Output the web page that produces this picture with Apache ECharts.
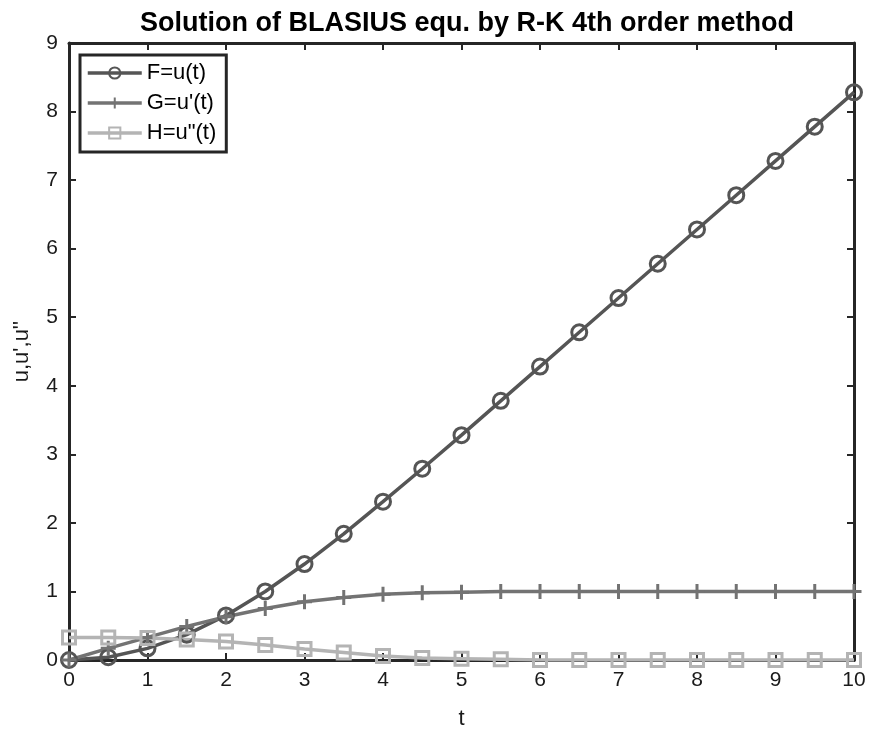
<!DOCTYPE html>
<html>
<head>
<meta charset="utf-8">
<script src="https://cdn.jsdelivr.net/npm/echarts@6/dist/echarts.min.js"></script>
<style>
  html, body { margin: 0; padding: 0; background: #fff; }
  #chart { width: 870px; height: 737px; }
</style>
</head>
<body>
<div id="chart"></div>
<script>
  // t steps of the R-K solution
  var tValues = [0, 0.5, 1, 1.5, 2, 2.5, 3, 3.5, 4, 4.5, 5, 5.5, 6, 6.5, 7, 7.5, 8, 8.5, 9, 9.5, 10];
  // F = u(t)
  var fValues = [0, 0.04, 0.17, 0.37, 0.65, 1.00, 1.40, 1.84, 2.31, 2.79, 3.28, 3.78, 4.28,
                 4.78, 5.28, 5.78, 6.28, 6.78, 7.28, 7.78, 8.28];
  // G = u'(t)
  var gValues = [0, 0.17, 0.33, 0.49, 0.63, 0.75, 0.85, 0.91, 0.96, 0.98, 0.99, 1.00, 1.00,
                 1.00, 1.00, 1.00, 1.00, 1.00, 1.00, 1.00, 1.00];
  // H = u''(t)
  var hValues = [0.33, 0.33, 0.32, 0.30, 0.27, 0.22, 0.16, 0.11, 0.06, 0.03, 0.02, 0.01, 0.00,
                 0.00, 0.00, 0.00, 0.00, 0.00, 0.00, 0.00, 0.00];
  var xTicks = [0, 1, 2, 3, 4, 5, 6, 7, 8, 9, 10];
  var yTicks = [0, 1, 2, 3, 4, 5, 6, 7, 8, 9];

  function pairs(ys) {
    return tValues.map(function (t, i) { return [t, ys[i]]; });
  }

  var axisColor = '#262626';
  var font = 'Liberation Sans, Arial, sans-serif';

  function baseAxis(extra) {
    var a = {
      type: 'value',
      axisLine: { show: true, onZero: false, lineStyle: { color: axisColor, width: 3 } },
      axisTick: { show: true, inside: true, length: 7, lineStyle: { color: axisColor, width: 2 } },
      splitLine: { show: false },
      axisLabel: { color: '#1a1a1a', fontSize: 21, fontFamily: font }
    };
    for (var k in extra) a[k] = extra[k];
    return a;
  }

  var option = {
    backgroundColor: '#fff',
    animation: false,
    title: {
      text: 'Solution of BLASIUS equ. by R-K 4th order method',
      left: 462, top: 5, textAlign: 'center',
      textStyle: { fontSize: 27, fontWeight: 'bold', color: '#000', fontFamily: font }
    },
    grid: { left: 69, right: 16, top: 43, bottom: 77 },
    legend: {
      orient: 'vertical', left: 80, top: 55,
      padding: [7, 10, 8, 6],
      itemWidth: 54, itemHeight: 14, itemGap: 8,
      borderColor: axisColor, borderWidth: 3, backgroundColor: '#fff',
      lineStyle: { width: 3.5 },
      textStyle: { fontSize: 22, color: '#000', fontFamily: font },
      data: ['F=u(t)', 'G=u\'(t)', 'H=u"(t)']
    },
    xAxis: [
      baseAxis({
        min: 0, max: 10, interval: 1, position: 'bottom',
        name: 't', nameLocation: 'middle', nameGap: 48,
        nameTextStyle: { fontSize: 22, color: '#1a1a1a', fontFamily: font },
        axisLabel: {
          color: '#1a1a1a', fontSize: 21, fontFamily: font, margin: 10,
          formatter: function (v) { return xTicks.indexOf(v) >= 0 ? String(v) : ''; }
        }
      }),
      baseAxis({ min: 0, max: 10, interval: 1, position: 'top', axisLabel: { show: false } })
    ],
    yAxis: [
      baseAxis({
        min: 0, max: 9, interval: 1, position: 'left',
        name: 'u,u\',u\'\'', nameLocation: 'middle', nameGap: 36, nameRotate: 90,
        nameTextStyle: { fontSize: 22, color: '#1a1a1a', fontFamily: font },
        axisLabel: {
          color: '#1a1a1a', fontSize: 21, fontFamily: font, margin: 11,
          formatter: function (v) { return yTicks.indexOf(v) >= 0 ? String(v) : ''; }
        }
      }),
      baseAxis({ min: 0, max: 9, interval: 1, position: 'right', axisLabel: { show: false } })
    ],
    series: [
      {
        name: 'F=u(t)', type: 'line', data: pairs(fValues),
        symbol: 'circle', symbolSize: 15,
        lineStyle: { color: '#555555', width: 3.5 },
        itemStyle: { color: 'rgba(255,255,255,0)', borderColor: '#555555', borderWidth: 3 }
      },
      {
        name: 'G=u\'(t)', type: 'line', data: pairs(gValues),
        symbol: 'path://M0,5L10,5M5,0L5,10', symbolSize: 15, symbolKeepAspect: true,
        lineStyle: { color: '#737373', width: 3.5 },
        itemStyle: { color: 'rgba(255,255,255,0)', borderColor: '#737373', borderWidth: 3 }
      },
      {
        name: 'H=u"(t)', type: 'line', data: pairs(hValues),
        symbol: 'rect', symbolSize: 13,
        lineStyle: { color: '#b4b4b4', width: 3.5 },
        itemStyle: { color: 'rgba(255,255,255,0)', borderColor: '#b4b4b4', borderWidth: 3 }
      }
    ]
  };

  var chart = echarts.init(document.getElementById('chart'), null, { renderer: 'canvas' });
  chart.setOption(option);
</script>
</body>
</html>
